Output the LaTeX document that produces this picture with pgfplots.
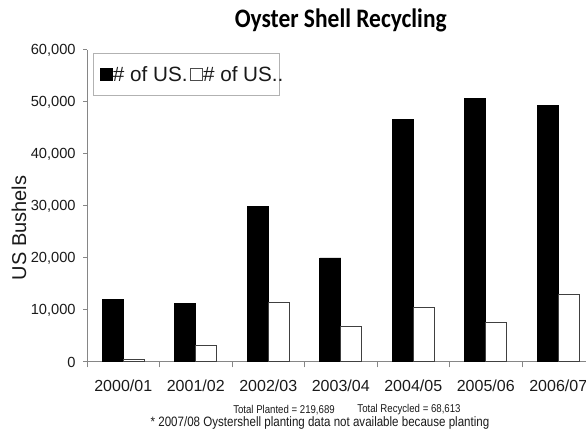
\documentclass[border=0pt]{standalone}
\usepackage{pgfplots}
\pgfplotsset{compat=1.18}
\usepackage{fontspec}
\setmainfont{Liberation Sans}
\newfontfamily\titlefont{Carlito}[FakeStretch=0.88]
\newfontfamily\notefont{Liberation Sans}[FakeStretch=0.85]
\definecolor{axgray}{HTML}{868686}
\definecolor{txtgray}{HTML}{1A1A1A}
\begin{document}
\begin{tikzpicture}[x=0.75pt,y=0.75pt]
\useasboundingbox (0,0) rectangle (586,432);
\clip (0,0) rectangle (586,432);
\begin{axis}[
  at={(65.25pt,52.5pt)}, anchor=south west,
  scale only axis, width=380.625pt, height=234pt,
  ybar=0pt, bar width=15.75pt,
  xmin=-0.5, xmax=6.5, ymin=0, ymax=60000,
  xtick={0,...,6},
  xticklabels={2000/01,2001/02,2002/03,2003/04,2004/05,2005/06,2006/07},
  minor xtick={-0.5,0.5,...,6.5},
  ytick={0,10000,...,60000},
  scaled y ticks=false,
  /pgf/number format/.cd, 1000 sep={,}, assume math mode=true, /pgfplots/.cd,
  axis x line*=bottom, axis y line*=left,
  axis line style={-, draw=axgray, line width=0.75pt},
  tick align=outside,
  major tick length=3pt, minor tick length=4pt,
  major x tick style={draw=none},
  every tick/.style={draw=axgray, line width=0.75pt},
  every minor tick/.style={draw=axgray, line width=0.75pt},
  yticklabel style={font=\fontsize{11}{13}\selectfont, text=txtgray, xshift=-2pt},
  xticklabel style={font=\fontsize{12}{14}\selectfont, text=txtgray, yshift=-7pt},
  title={\titlefont\bfseries Oyster Shell Recycling},
  title style={at={(axis description cs:0.5,1.045)}, anchor=base, font=\fontsize{20}{24}\selectfont},
  ylabel={US Bushels},
  every axis y label/.style={at={(axis description cs:-0.134,0.43)}, rotate=90, anchor=center, font=\fontsize{15}{18}\selectfont, text=txtgray},
  legend columns=2,
  legend style={at={(axis description cs:0.011,0.99)}, anchor=north west,
    draw=black!30, line width=0.5pt, inner xsep=5pt, inner ysep=9pt,
    font=\fontsize{15.5}{18}\selectfont, text=txtgray,
    nodes={inner sep=0.5pt},
    /tikz/every even column/.append style={column sep=1pt}},
]
\addplot[fill=black, draw=black, line width=0.5pt,
  legend image code/.code={\draw[fill=black,draw=black] (0pt,-4.5pt) rectangle (9pt,4.5pt);}]
  coordinates {(0,12000) (1,11200) (2,29900) (3,20000) (4,46600) (5,50700) (6,49289)};
\addlegendentry{\# of US.}
\addplot[fill=white, draw=black!75, line width=0.75pt,
  legend image code/.code={\draw[fill=white,draw=black!70,line width=0.6pt] (0pt,-4.5pt) rectangle (9pt,4.5pt);}]
  coordinates {(0,500) (1,3200) (2,11500) (3,6800) (4,10500) (5,7500) (6,13000)};
\addlegendentry{\# of US\rlap{..}\hspace{-4pt}}
\end{axis}
\node[font=\notefont\fontsize{8.5}{10}\selectfont, text=txtgray] at (284,22) {Total Planted = 219,689};
\node[font=\notefont\fontsize{8.5}{10}\selectfont, text=txtgray] at (409,22) {Total Recycled = 68,613};
\node[font=\notefont\fontsize{10.2}{12}\selectfont, text=txtgray] at (320,9) {* 2007/08 Oystershell planting data not available because planting};
\end{tikzpicture}
\end{document}
